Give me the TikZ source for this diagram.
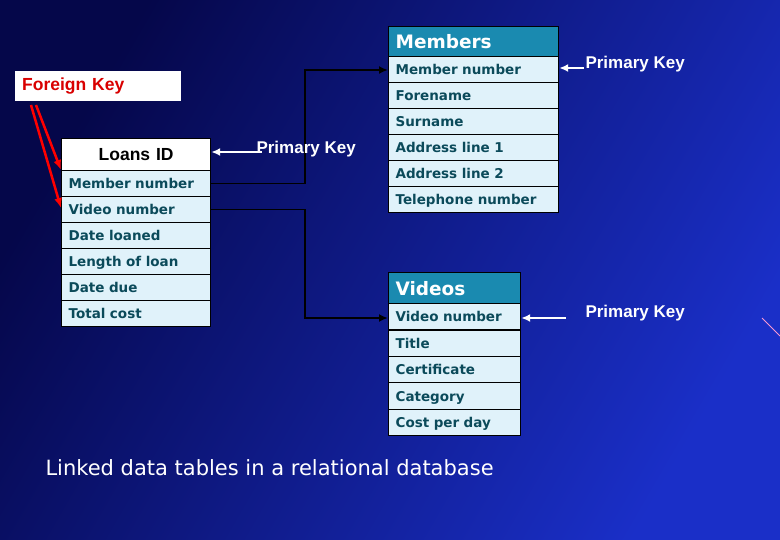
\documentclass[tikz,border=0pt]{standalone}
\usepackage{fontspec}
\setmainfont{Liberation Sans}
\newfontfamily\cellfont{DejaVu Sans}
\usetikzlibrary{positioning,arrows.meta}
\definecolor{rowfill}{HTML}{E0F2FA}
\definecolor{rowtext}{HTML}{0B4A5A}
\definecolor{headfill}{HTML}{1A8AB0}
\definecolor{bgdark}{HTML}{05074A}
\definecolor{bglight}{HTML}{1A2FC8}
\tikzset{
  cell/.style={draw=black, line width=1.2pt, fill=rowfill, text=rowtext,
    font=\cellfont\bfseries\fontsize{13.5}{14}\selectfont, anchor=north west,
    minimum height=26pt, inner xsep=7pt, text depth=0pt},
  headcell/.style={cell, fill=headfill, text=white,
    font=\cellfont\bfseries\fontsize{18.5}{19}\selectfont},
  link/.style={draw=black, line width=1.8pt, -{Latex[length=9pt,width=8pt]}},
  pklink/.style={draw=white, line width=1.8pt, -{Latex[length=9pt,width=8pt]}},
  pklabel/.style={text=white, font=\bfseries\fontsize{17}{18}\selectfont},
}
\begin{document}
\begin{tikzpicture}[x=1pt,y=-1pt]
\shade[left color=bgdark, right color=bglight, shading angle=60] (0,0) rectangle (780,540);
\useasboundingbox (0,0) rectangle (780,540);
\draw[magenta!40, line width=0.8pt] (762,318) -- (780,336);

% Loans table
\node[cell, fill=white, text=black, minimum width=149pt, minimum height=32pt, align=center,
  font=\bfseries\fontsize{17.5}{18}\selectfont, text width=135pt] (loans) at (61,138) {Loans ID};
\foreach \t [count=\i] in {Member number,Video number,Date loaned,Length of loan,Date due,Total cost}
  \node[cell, minimum width=149pt, text width=135pt] (l\i) at (61,144+26*\i) {\t};

% Members table
\node[headcell, minimum width=170pt, minimum height=30pt, text width=156pt] (members) at (388,26) {Members};
\foreach \t [count=\i] in {Member number,Forename,Surname,Address line 1,Address line 2,Telephone number}
  \node[cell, minimum width=170pt, text width=156pt] (m\i) at (388,30+26*\i) {\t};

% Videos table
\node[headcell, minimum width=132pt, minimum height=31pt, text width=118pt] (videos) at (388,272) {Videos};
\foreach \t [count=\i] in {Video number,Title,Certificate,Category,Cost per day}
  \node[cell, minimum width=132pt, minimum height=26.4pt, text width=118pt] (v\i) at (388,276.6+26.4*\i) {\t};

% links between tables
\draw[link] (l1.east) -| (305,70) -- (m1.west |- 0,70);
\draw[link] (l2.east) -| (305,318) -- (v1.west |- 0,318);

% primary keys
\node[pklabel, anchor=west] (pkloans) at (253,149) {Primary Key};
\node[pklabel, anchor=west] (pkmembers) at (582,64) {Primary Key};
\node[pklabel, anchor=west] (pkvideos) at (582,313) {Primary Key};
\draw[pklink] (262,152) -- (loans.east |- 0,152);
\draw[pklink] (584,68) -- (m1.east |- 0,68);
\draw[pklink] (566,318) -- (v1.east |- 0,318);

% foreign key
\node[fill=white, text=red!85!black, font=\bfseries\fontsize{17.5}{18}\selectfont,
  minimum width=166pt, minimum height=30pt, text width=152pt, inner xsep=7pt, anchor=north west] (fk) at (15,71) {Foreign Key};
\coordinate (fka) at (31,105);
\coordinate (fkb) at (36,105);
\draw[red, line width=2.5pt, -{Latex[length=10pt,width=8pt]}] (fkb) -- (l1.north west);
\draw[red, line width=2.5pt, -{Latex[length=10pt,width=8pt]}] (fka) -- ([yshift=-12pt]l2.north west);

% caption
\node[text=white, font=\cellfont\fontsize{21}{24}\selectfont, anchor=west] (caption) at (42,468) {Linked data tables in a relational database};
\end{tikzpicture}
\end{document}
